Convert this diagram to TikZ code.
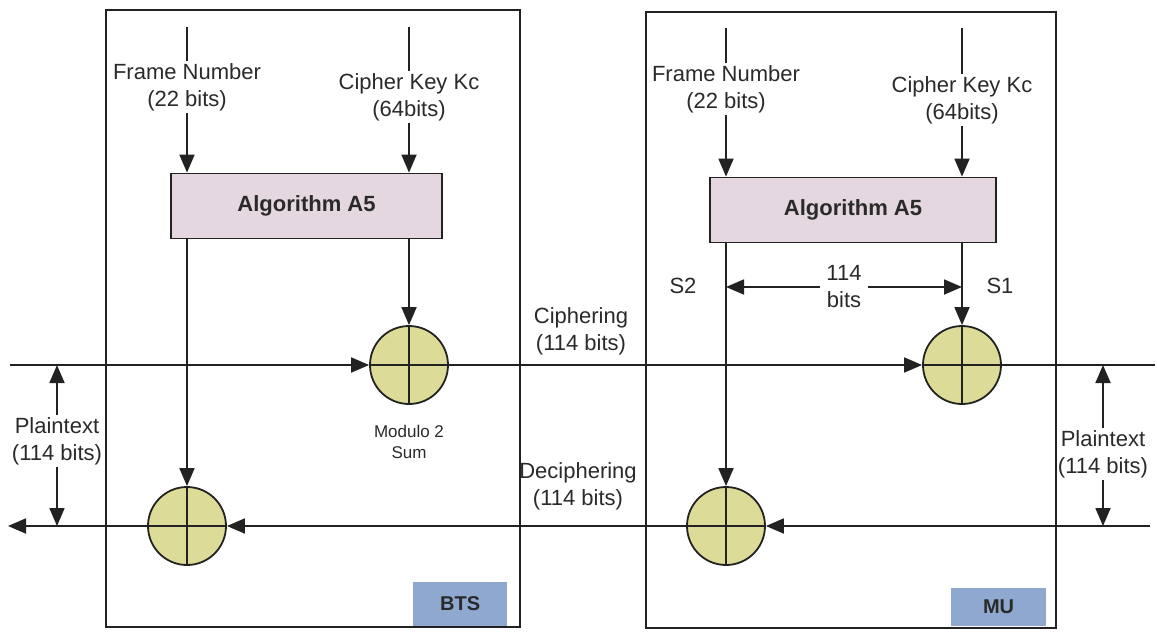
\documentclass[tikz,border=0pt]{standalone}
\usepackage{fontspec}
\setmainfont{Liberation Sans}
\usetikzlibrary{arrows.meta}
\definecolor{linec}{HTML}{222222}
\definecolor{txtc}{HTML}{2A2A2A}
\definecolor{algofill}{HTML}{E4D7DF}
\definecolor{xorfill}{HTML}{DCDC98}
\definecolor{tagfill}{HTML}{8FA8CF}
\tikzset{
  lbl/.style={font=\fontsize{22}{27}\selectfont, align=center, inner sep=1pt, text=txtc},
  small/.style={font=\fontsize{17}{21}\selectfont, align=center, inner sep=1pt, text=txtc},
  algo/.style={draw=linec, fill=algofill, minimum height=65pt, inner sep=0pt,
    font=\fontsize{22}{26}\selectfont\bfseries, text=txtc},
  xor/.style={circle, draw=linec, fill=xorfill, minimum size=78pt, inner sep=0pt},
  frame/.style={draw=linec, inner sep=0pt},
  tag/.style={fill=tagfill, inner sep=0pt, font=\fontsize{20}{24}\selectfont\bfseries, text=txtc},
  arr/.style={-{Triangle[length=18pt,width=15pt]}},
  darr/.style={{Triangle[length=18pt,width=15pt]}-{Triangle[length=18pt,width=15pt]}}
}
\begin{document}
\begin{tikzpicture}[x=1pt,y=-1pt, line width=1.8pt, draw=linec]
\useasboundingbox (0,0) rectangle (1157,635);
\fill[white] (0,0) rectangle (1157,635);
% frames
\node[frame, minimum width=414pt, minimum height=617pt] (bts) at (313,318.5) {};
\node[frame, minimum width=410pt, minimum height=616pt] (mu) at (851,320) {};
\node[tag, minimum width=94pt, minimum height=44pt, anchor=south east] (btstag) at (508,627) {BTS};
\node[tag, minimum width=95pt, minimum height=38pt, anchor=south east] (mutag) at (1047,627) {MU};
% algorithm boxes
\node[algo, minimum width=271pt] (a1) at (306.5,206) {Algorithm A5};
\node[algo, minimum width=286pt] (a2) at (853,210) {Algorithm A5};
% input labels
\node[lbl] (fn1) at (187,87) {Frame Number\\(22 bits)};
\node[lbl] (ck1) at (409,97) {Cipher Key Kc\\(64bits)};
\node[lbl] (fn2) at (726,89) {Frame Number\\(22 bits)};
\node[lbl] (ck2) at (962,100) {Cipher Key Kc\\(64bits)};
\coordinate (fn1t) at (187,27);
\coordinate (ck1t) at (409,27);
\coordinate (fn2t) at (726,28);
\coordinate (ck2t) at (962,28);
\draw (fn1t) -- (fn1.north);
\draw (ck1t) -- (ck1.north);
\draw (fn2t) -- (fn2.north);
\draw (ck2t) -- (ck2.north);
\draw[arr] (fn1.south) -- (fn1.south |- a1.north);
\draw[arr] (ck1.south) -- (ck1.south |- a1.north);
\draw[arr] (fn2.south) -- (fn2.south |- a2.north);
\draw[arr] (ck2.south) -- (ck2.south |- a2.north);
% xor circles
\node[xor] (x1) at (409,365) {};
\node[xor] (x2) at (962,365) {};
\node[xor] (x3) at (187,526) {};
\node[xor] (x4) at (726,526) {};
\foreach \c in {x1,x2,x3,x4}{
  \draw (\c.north) -- (\c.south);
  \draw (\c.west) -- (\c.east);
}
% keystream to xors
\draw[arr] (a1.south -| x1) -- (x1.north);
\draw[arr] (a1.south -| x3) -- (x3.north);
\draw[arr] (a2.south -| x2) -- (x2.north);
\draw[arr] (a2.south -| x4) -- (x4.north);
% data lines
\coordinate (tl) at (10,365);
\coordinate (tr) at (1155,365);
\coordinate (bl) at (8,526);
\coordinate (br) at (1150,526);
\draw[arr] (tl) -- (x1.west);
\draw[arr] (x1.east) -- (x2.west);
\draw (x2.east) -- (tr);
\draw[arr] (br) -- (x4.east);
\draw[arr] (x4.west) -- (x3.east);
\draw[arr] (x3.west) -- (bl);
% plaintext labels
\node[lbl] (pl) at (57,441) {Plaintext\\(114 bits)};
\node[lbl] (pr) at (1103,454) {Plaintext\\(114 bits)};
\draw[arr] (pl.north) -- (pl.north |- tl);
\draw[arr] (pl.south) -- (pl.south |- bl);
\draw[arr] (pr.north) -- (pr.north |- tr);
\draw[arr] (pr.south) -- (pr.south |- br);
% other labels
\node[lbl] (ciph) at (581,331) {Ciphering\\(114 bits)};
\node[lbl] (deciph) at (578,486) {Deciphering\\(114 bits)};
\node[small] (mod) at (409,442) {Modulo 2\\Sum};
\node[lbl] (s2) at (683,286) {S2};
\node[lbl] (s1) at (1000,286) {S1};
\coordinate (ba) at (726,287);
\coordinate (bb) at (962,287);
\draw[darr] (ba) -- (bb) node[midway, lbl, fill=white, inner xsep=6pt] (bits) {114\\bits};
\end{tikzpicture}
\end{document}
